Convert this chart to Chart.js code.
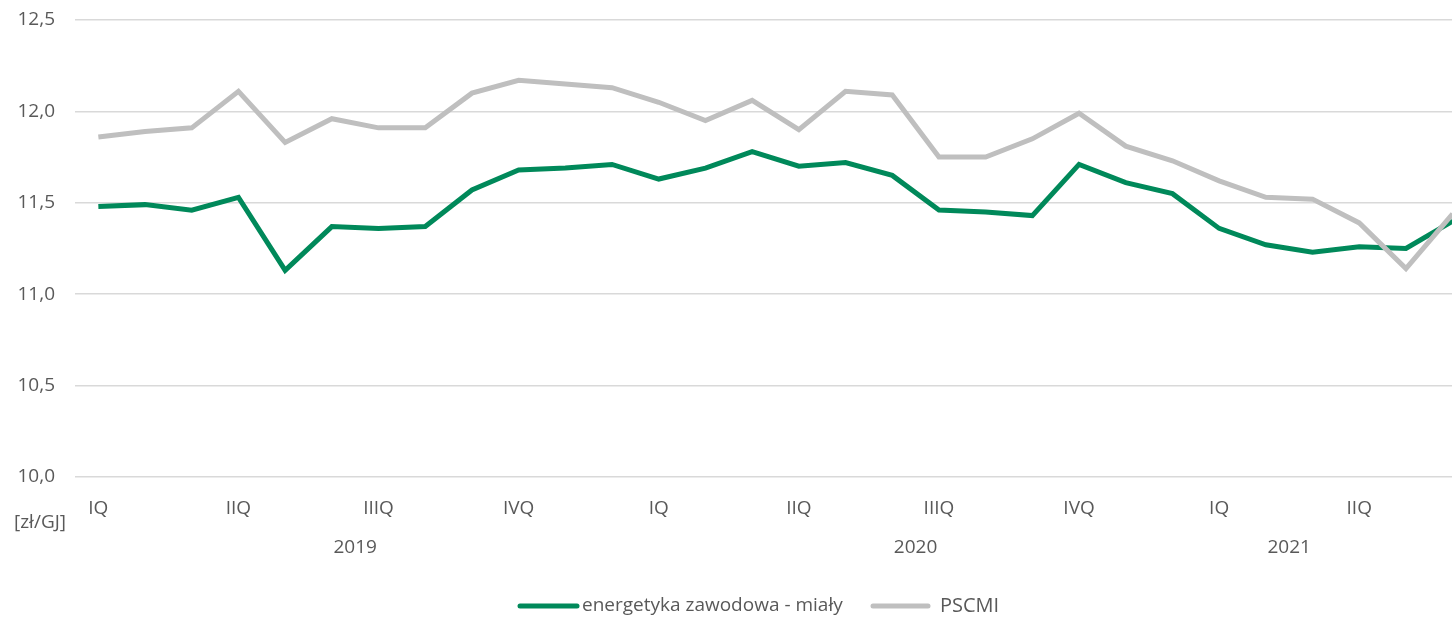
<!DOCTYPE html>
<html>
<head>
<meta charset="utf-8">
<script src="https://cdn.jsdelivr.net/npm/chart.js@4.4.1/dist/chart.umd.min.js"></script>
<style>
  html, body { margin: 0; padding: 0; background: #fff; overflow: hidden; }
  #wrap { width: 1476px; height: 617px; }
</style>
</head>
<body>
<div id="wrap"><canvas id="myChart"></canvas></div>
<script>
const quarterLabels = ["IQ", "", "", "IIQ", "", "", "IIIQ", "", "", "IVQ", "", "",
  "IQ", "", "", "IIQ", "", "", "IIIQ", "", "", "IVQ", "", "",
  "IQ", "", "", "IIQ", "", ""];
const years = ["2019", "2020", "2021"];
const yearCenters = [5.5, 17.5, 25.5];

const energetyka = [11.48, 11.49, 11.46, 11.53, 11.13, 11.37, 11.36, 11.37, 11.57, 11.68,
  11.69, 11.71, 11.63, 11.69, 11.78, 11.70, 11.72, 11.65, 11.46, 11.45,
  11.43, 11.71, 11.61, 11.55, 11.36, 11.27, 11.23, 11.26, 11.25, 11.40];
const pscmi = [11.86, 11.89, 11.91, 12.11, 11.83, 11.96, 11.91, 11.91, 12.10, 12.17,
  12.15, 12.13, 12.05, 11.95, 12.06, 11.90, 12.11, 12.09, 11.75, 11.75,
  11.85, 11.99, 11.81, 11.73, 11.62, 11.53, 11.52, 11.39, 11.14, 11.44];

const textColor = "#595959";
const fontFamily = "'Open Sans', sans-serif";

const extras = {
  id: "extras",
  afterDraw(chart) {
    const c = chart.ctx;
    const x = chart.scales.x;
    c.save();
    c.fillStyle = textColor;
    c.textAlign = "center";
    c.textBaseline = "middle";
    c.font = "19px " + fontFamily;
    years.forEach((y, i) => {
      c.fillText(y, x.getPixelForValue(yearCenters[i]), 548);
    });
    c.textAlign = "left";
    c.fillText("[zł/GJ]", 14, 523);

    // legend
    const items = [
      { ds: chart.data.datasets[0], x: 520, w: 57, gap: 5, size: 19 },
      { ds: chart.data.datasets[1], x: 873, w: 55, gap: 12, size: 20 },
    ];
    items.forEach((it) => {
      c.strokeStyle = it.ds.borderColor;
      c.lineWidth = 5;
      c.lineCap = "round";
      c.beginPath();
      c.moveTo(it.x, 606);
      c.lineTo(it.x + it.w, 606);
      c.stroke();
      c.font = it.size + "px " + fontFamily;
      c.fillText(it.ds.label, it.x + it.w + it.gap, 606);
    });
    c.restore();
  },
};

new Chart(document.getElementById("myChart").getContext("2d"), {
  type: "line",
  data: {
    labels: quarterLabels,
    datasets: [
      {
        label: "energetyka zawodowa - miały",
        data: energetyka,
        borderColor: "#00895A",
        borderWidth: 5,
        pointRadius: 0,
        fill: false,
        order: 1,
      },
      {
        label: "PSCMI",
        data: pscmi,
        borderColor: "#BFBFBF",
        borderWidth: 5,
        pointRadius: 0,
        fill: false,
        order: 0,
      },
    ],
  },
  options: {
    responsive: true,
    maintainAspectRatio: false,
    animation: false,
    layout: { padding: 0 },
    plugins: {
      legend: { display: false },
      tooltip: { enabled: false },
    },
    scales: {
      x: {
        offset: true,
        grid: { display: false, drawTicks: false },
        border: { display: false },
        ticks: {
          autoSkip: false,
          maxRotation: 0,
          color: textColor,
          font: { family: fontFamily, size: 19 },
          padding: 20,
        },
        afterFit(axis) { axis.height = 140; },
      },
      y: {
        min: 10,
        max: 12.5,
        border: { display: false },
        grid: { color: "#D9D9D9", lineWidth: 1.5, drawTicks: false },
        ticks: {
          stepSize: 0.5,
          color: textColor,
          font: { family: fontFamily, size: 19 },
          padding: 20,
          callback: (v) => v.toFixed(1).replace(".", ","),
        },
        afterFit(axis) {
          axis.width = 75;
          axis.paddingTop = 20;
          axis.paddingBottom = 0;
        },
      },
    },
  },
  plugins: [extras],
});
</script>
</body>
</html>
